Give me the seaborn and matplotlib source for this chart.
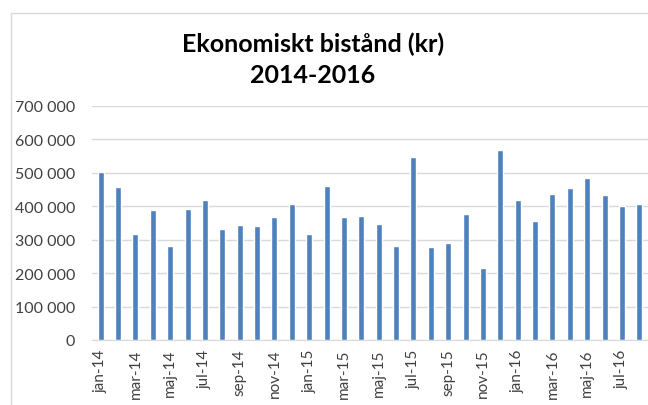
import matplotlib
matplotlib.use('Agg')
import matplotlib.pyplot as plt
import numpy as np
import pandas as pd
import seaborn as sns
from matplotlib.lines import Line2D
from matplotlib.ticker import FuncFormatter

months = ['jan', 'feb', 'mar', 'apr', 'maj', 'jun',
          'jul', 'aug', 'sep', 'okt', 'nov', 'dec']
years = ['14', '15', '16']
labels = [m + '-' + y for y in years for m in months][:32]

values = [504000, 459000, 318000, 390000, 280000, 393000, 420000, 333000,
          345000, 342000, 369000, 408000,
          318000, 462000, 369000, 372000, 348000, 282000, 548000, 277000,
          291000, 378000, 216000, 569000,
          420000, 357000, 437000, 455000, 486000, 434000, 402000, 407000]

title = 'Ekonomiskt bistånd (kr)\n2014-2016'

df = pd.DataFrame({'Manad': labels, 'Belopp': values})

sns.set_style('white')
plt.rcParams['font.family'] = ['Lato', 'DejaVu Sans']

fig = plt.figure(figsize=(6.48, 4.06), dpi=100)
ax = fig.add_axes([92 / 648, 1 - 341 / 406, 556 / 648, 234 / 406])

sns.barplot(data=df, x='Manad', y='Belopp', color='#4f81bd',
            width=0.35, saturation=1, ax=ax)

ax.set_ylim(0, 700000)
ax.set_xlim(-0.5, len(labels) - 0.5)
ax.set_yticks(np.arange(0, 700001, 100000))
ax.yaxis.set_major_formatter(FuncFormatter(lambda v, p: f'{int(v):,}'.replace(',', ' ')))
ax.grid(axis='y', color='#d9d9d9', linewidth=1)
ax.set_axisbelow(True)

pos = np.arange(0, len(labels), 2)
ax.set_xticks(pos)
ax.set_xticklabels([labels[i] for i in pos], rotation=90)
ax.set_xticks(np.arange(-0.5, len(labels), 2), minor=True)
ax.tick_params(axis='x', which='major', length=0, labelsize=11,
               colors='#404040', pad=6)
ax.tick_params(axis='x', which='minor', length=4, color='#d9d9d9', width=1)
ax.tick_params(axis='y', length=0, labelsize=11.5, colors='#404040', pad=12)
ax.set_xlabel('')
ax.set_ylabel('')

for s in ['top', 'right', 'left']:
    ax.spines[s].set_visible(False)
ax.spines['bottom'].set_color('#d9d9d9')

fig.text(313 / 648, 1 - 60 / 406, title, ha='center', va='center',
         fontsize=18, fontweight='bold', color='#000000', linespacing=1.4)

# chart border
fig.add_artist(Line2D([10.5 / 648, 10.5 / 648], [0, 1 - 14 / 406],
                      color='#d9d9d9', linewidth=1, transform=fig.transFigure))
fig.add_artist(Line2D([10.5 / 648, 1], [1 - 14 / 406, 1 - 14 / 406],
                      color='#d9d9d9', linewidth=1, transform=fig.transFigure))

fig.savefig('out.png', dpi=100)
